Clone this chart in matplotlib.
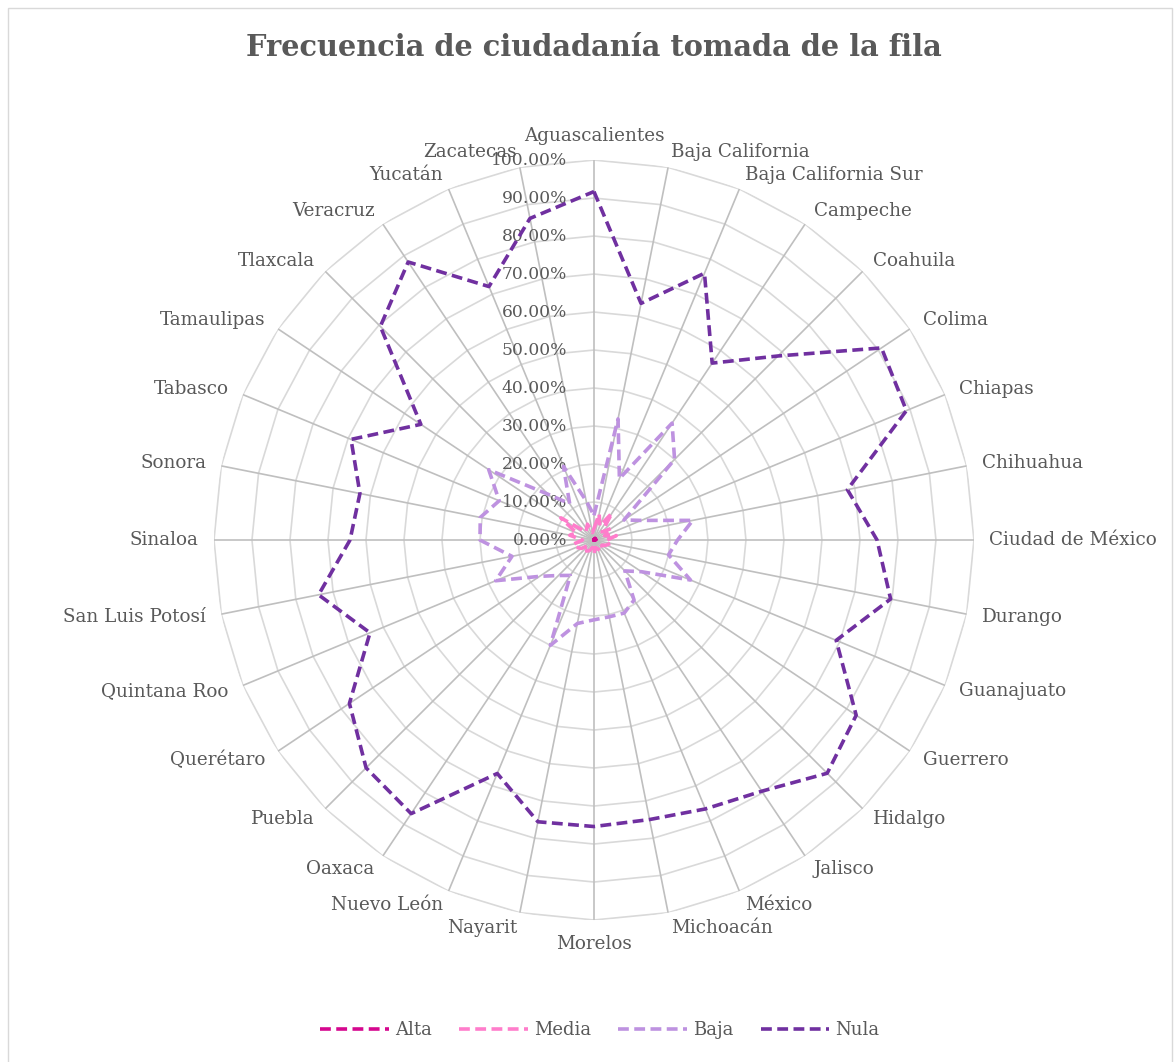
import numpy as np
import matplotlib
matplotlib.use('Agg')
import matplotlib.pyplot as plt
from matplotlib.patches import Rectangle

estados = ['Aguascalientes', 'Baja California', 'Baja California Sur', 'Campeche',
           'Coahuila', 'Colima', 'Chiapas', 'Chihuahua', 'Ciudad de México',
           'Durango', 'Guanajuato', 'Guerrero', 'Hidalgo', 'Jalisco', 'México',
           'Michoacán', 'Morelos', 'Nayarit', 'Nuevo León', 'Oaxaca', 'Puebla',
           'Querétaro', 'Quintana Roo', 'San Luis Potosí', 'Sinaloa', 'Sonora',
           'Tabasco', 'Tamaulipas', 'Tlaxcala', 'Veracruz', 'Yucatán', 'Zacatecas']

# porcentajes (%)
alta = [0.5, 0, 0, 0.5, 0, 0, 0, 0.5, 0, 0, 0, 0, 0, 0, 0, 0,
        0, 0, 0, 0, 0, 0, 0, 0, 0.5, 0, 0, 0.5, 0, 0, 0, 0]
media = [3, 7, 4, 8.5, 3, 5.5, 3, 6, 3.5, 4.5, 3.5, 2.5, 3, 3.5, 2.5, 2,
         3.5, 2, 3, 3.5, 2, 4, 5, 5.5, 3, 6.5, 5, 10.5, 3, 3.5, 4.5, 2]
baja = [6.5, 32.5, 17.5, 37, 30, 9.5, 13.5, 26.5, 22, 20, 27.5, 15, 11.5, 19, 20.8, 20.6,
        21, 22.4, 30, 11.2, 13.2, 17.2, 28, 22, 30, 30.5, 27, 33.3, 17, 11.5, 21, 10.5]
nula = [91.7, 63.5, 76, 56, 68.5, 91, 89, 68, 74.5, 79.6, 69, 83, 86.8, 79.5, 76.6, 75,
        75.4, 75.6, 66.5, 86.6, 84.8, 77.4, 63.8, 73.9, 64.2, 62.8, 69.2, 54.8, 79.5, 88, 72.2, 86.3]

series = {'Alta': (alta, '#D5078E'),
          'Media': (media, '#FF7DCB'),
          'Baja': (baja, '#BE92E0'),
          'Nula': (nula, '#7030A0')}

gris = '#595959'
fuente = 'DejaVu Serif'

fig = plt.figure(figsize=(11.75, 10.62), dpi=100)
ax = fig.add_axes([0.1821, 0.1337, 0.6468, 0.7156], projection='polar')
ax.set_theta_zero_location('N')
ax.set_theta_direction(-1)
ax.set_ylim(0, 1)
ax.grid(False)
ax.spines['polar'].set_visible(False)
ax.set_xticks([])
ax.set_yticks([])

n = len(estados)
theta = np.linspace(0, 2 * np.pi, n, endpoint=False)
theta_c = np.append(theta, theta[0])

# rejilla poligonal como en Excel
for v in np.arange(1, 11) / 10:
    ax.plot(theta_c, [v] * (n + 1), color='#D9D9D9', lw=1.2, zorder=1)
for t in theta:
    ax.plot([t, t], [0, 1], color='#BFBFBF', lw=1.2, zorder=1)

for v in np.arange(0, 11) / 10:
    ax.annotate(f'{v * 100:.2f}%', xy=(0, v), xytext=(-27, 0), textcoords='offset pixels',
                ha='right', va='center', fontsize=12.3, color=gris, family=fuente, zorder=2)

for t, nombre in zip(theta, estados):
    s, c = np.sin(t), np.cos(t)
    ha = 'left' if s > 0.05 else ('right' if s < -0.05 else 'center')
    va = 'center'
    if abs(s) <= 0.05:
        va = 'bottom' if c > 0 else 'top'
    ax.text(t, 1.04, nombre, ha=ha, va=va, fontsize=13.2, color=gris, family=fuente)

for nombre, (vals, color) in series.items():
    r = np.array(vals + [vals[0]]) / 100
    ax.plot(theta_c, r, color=color, lw=2.6, dashes=(3, 1.5), label=nombre, zorder=3)

fig.text(0.5055, 1 - 47 / 1062, 'Frecuencia de ciudadanía tomada de la fila',
         ha='center', va='center', fontsize=20.8, weight='bold', color=gris, family=fuente)

leg = fig.legend(loc='center', bbox_to_anchor=(600 / 1175, 1 - 1030 / 1062), ncol=4, frameon=False,
                 handlelength=3.8, columnspacing=1.5, handletextpad=0.35,
                 prop={'family': fuente, 'size': 13})
for txt in leg.get_texts():
    txt.set_color(gris)

fig.add_artist(Rectangle((8 / 1175, -0.01), 1164 / 1175, 1054 / 1062 + 0.01,
                         transform=fig.transFigure, fill=False, ec='#D9D9D9', lw=1))

fig.savefig('out.png', dpi=100)
